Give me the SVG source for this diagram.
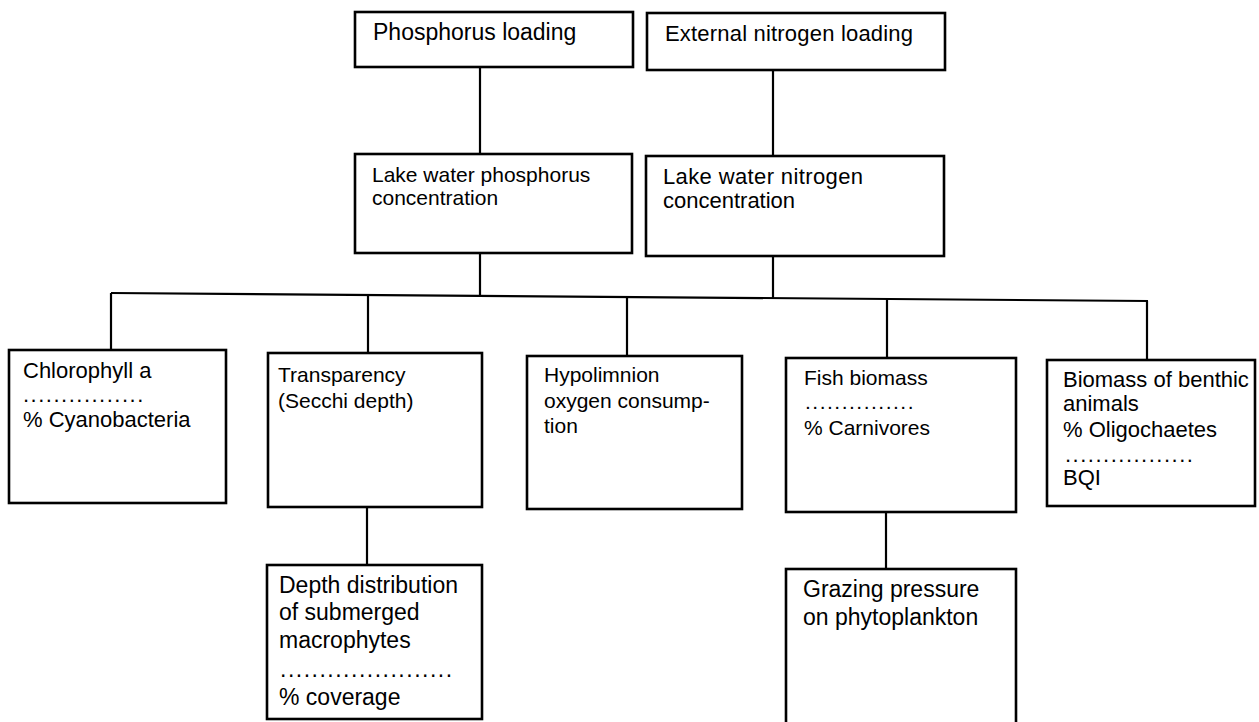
<svg xmlns="http://www.w3.org/2000/svg" width="1259" height="722" viewBox="0 0 1259 722">
<style>
.box{fill:#fff;stroke:#000;stroke-width:2.6}
.ln{fill:none;stroke:#000;stroke-width:2.2}
text{font-family:"Liberation Sans",Arial,sans-serif;fill:#000}
.t23{font-size:23px}
.t22{font-size:22px}
.t21{font-size:21px}
.dots{letter-spacing:1.5px}
</style>
<rect width="1259" height="722" fill="#fff"/>
<g id="connectors">
<line class="ln" x1="480" y1="67" x2="480" y2="154"/>
<line class="ln" x1="773" y1="70" x2="773" y2="156"/>
<line class="ln" x1="480" y1="253" x2="480" y2="295"/>
<line class="ln" x1="773" y1="256" x2="773" y2="298"/>
<line class="ln" x1="111" y1="293" x2="1148" y2="301"/>
<line class="ln" x1="111" y1="293" x2="111" y2="350"/>
<line class="ln" x1="368" y1="295" x2="368" y2="353"/>
<line class="ln" x1="627" y1="297" x2="627" y2="356"/>
<line class="ln" x1="887" y1="299" x2="887" y2="358"/>
<line class="ln" x1="1147" y1="301" x2="1147" y2="360"/>
<line class="ln" x1="367" y1="507" x2="367" y2="565"/>
<line class="ln" x1="886" y1="512" x2="886" y2="569"/>
</g>
<g id="phosphorus-loading">
<rect class="box" x="355" y="12" width="278" height="55"/>
<text class="t23" x="373" y="40">Phosphorus loading</text>
</g>
<g id="nitrogen-loading">
<rect class="box" x="647" y="13" width="298" height="57"/>
<text class="t22" x="665" y="41" textLength="248">External nitrogen loading</text>
</g>
<g id="lake-phosphorus">
<rect class="box" x="355" y="154" width="277" height="99"/>
<text class="t21" x="372" y="182">Lake water phosphorus</text>
<text class="t21" x="372" y="205">concentration</text>
</g>
<g id="lake-nitrogen">
<rect class="box" x="646" y="156" width="298" height="100"/>
<text class="t22" x="663" y="184" textLength="200">Lake water nitrogen</text>
<text class="t22" x="663" y="208">concentration</text>
</g>
<g id="chlorophyll">
<rect class="box" x="9" y="350" width="217" height="153"/>
<text class="t22" x="23" y="378">Chlorophyll a</text>
<text class="t22 dots" x="23" y="402">................</text>
<text class="t22" x="23" y="427">% Cyanobacteria</text>
</g>
<g id="transparency">
<rect class="box" x="268" y="353" width="214" height="154"/>
<text class="t21" x="278" y="382">Transparency</text>
<text class="t21" x="278" y="408">(Secchi depth)</text>
</g>
<g id="hypolimnion">
<rect class="box" x="527" y="356" width="215" height="153"/>
<text class="t21" x="544" y="382">Hypolimnion</text>
<text class="t21" x="544" y="408">oxygen consump-</text>
<text class="t21" x="544" y="433">tion</text>
</g>
<g id="fish">
<rect class="box" x="786" y="358" width="230" height="154"/>
<text class="t21" x="804" y="385">Fish biomass</text>
<text class="t21 dots" x="805" y="409">...............</text>
<text class="t21" x="804" y="435">% Carnivores</text>
</g>
<g id="benthic">
<rect class="box" x="1047" y="360" width="208" height="146"/>
<text class="t22" x="1063" y="387">Biomass of benthic</text>
<text class="t22" x="1063" y="411">animals</text>
<text class="t22" x="1063" y="437">% Oligochaetes</text>
<text class="t22 dots" x="1065" y="462">.................</text>
<text class="t22" x="1063" y="485">BQI</text>
</g>
<g id="macrophytes">
<rect class="box" x="267" y="565" width="215" height="154"/>
<text class="t23" x="279" y="593">Depth distribution</text>
<text class="t23" x="279" y="620">of submerged</text>
<text class="t23" x="279" y="648">macrophytes</text>
<text class="t23 dots" x="280" y="677">......................</text>
<text class="t23" x="279" y="705">% coverage</text>
</g>
<g id="grazing">
<rect class="box" x="786" y="569" width="230" height="170"/>
<text class="t23" x="803" y="597">Grazing pressure</text>
<text class="t23" x="803" y="625">on phytoplankton</text>
</g>
</svg>
